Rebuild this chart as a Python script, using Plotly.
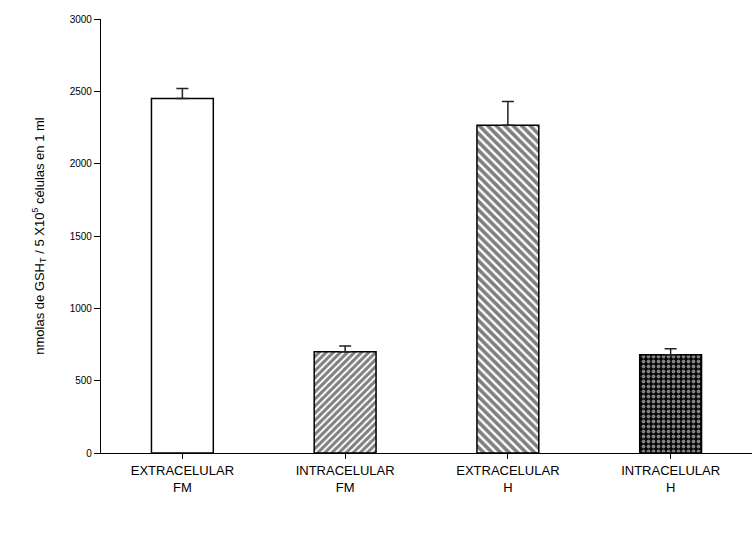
import plotly.graph_objects as go

# Total glutathione per 5x10^5 cells in 1 ml
categories = ["EXTRACELULAR<br>FM", "INTRACELULAR<br>FM", "EXTRACELULAR<br>H", "INTRACELULAR<br>H"]
values = [2450, 700, 2265, 680]
errors_up = [70, 40, 165, 40]
patterns = ["", "/", "\\", "."]

y_ticks = [0, 500, 1000, 1500, 2000, 2500, 3000]

fig = go.Figure()
fig.add_trace(go.Bar(
    x=categories,
    y=values,
    width=0.38,
    marker=dict(
        color="white",
        line=dict(color="black", width=1.5),
        pattern=dict(shape=patterns,
                     fgcolor=["black", "black", "black", "white"],
                     bgcolor=["white", "white", "white", "black"],
                     size=[6, 5, 6, 5], solidity=[0.3, 0.6, 0.6, 0.45]),
    ),
    error_y=dict(type="data", symmetric=False, array=errors_up,
                 arrayminus=[0, 0, 0, 0], color="#222222", thickness=1.5, width=6),
    showlegend=False,
))

fig.update_layout(
    width=754, height=540,
    margin=dict(l=101, r=2, t=19, b=87),
    paper_bgcolor="white", plot_bgcolor="white",
    font=dict(family="Liberation Sans, Arial, sans-serif", color="black"),
    bargap=0.6,
)
fig.update_xaxes(
    showline=True, linecolor="black", linewidth=1.2,
    ticks="outside", ticklen=5, tickcolor="black",
    tickfont=dict(size=13), range=[-0.5, 3.5],
)
fig.update_yaxes(
    range=[0, 3000], tickvals=y_ticks,
    showline=True, linecolor="black", linewidth=1.2,
    ticks="outside", ticklen=6, tickcolor="black",
    showgrid=False, zeroline=False,
    tickfont=dict(size=10),
    title=dict(text="nmolas de GSH<sub>T</sub> / 5 X10<sup>5</sup> células en 1 ml",
               font=dict(size=13), standoff=22),
)

fig.write_html("out.html")
